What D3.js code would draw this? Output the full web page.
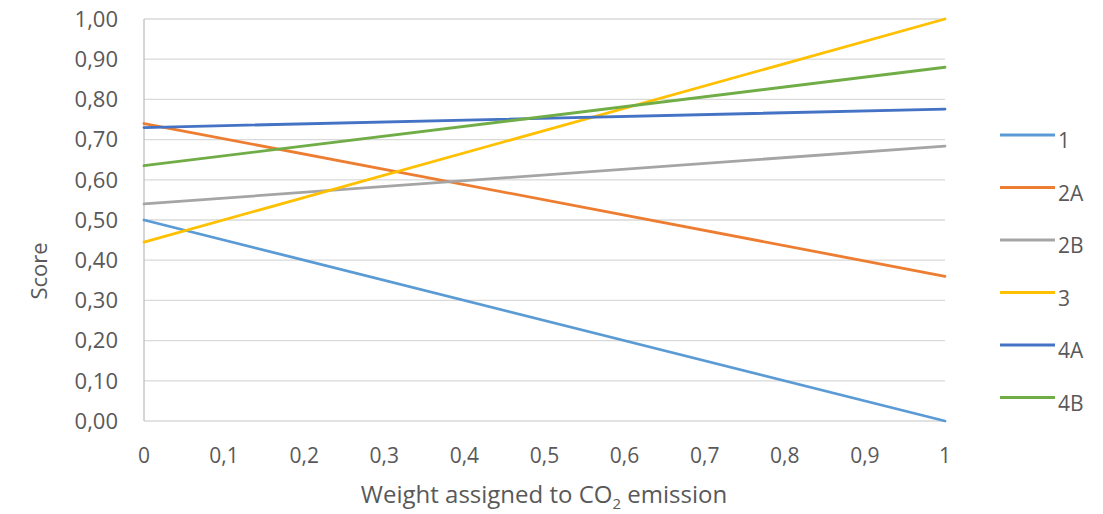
<!DOCTYPE html>
<html>
<head>
<meta charset="utf-8">
<script src="https://cdn.jsdelivr.net/npm/d3@7"></script>
<style>
  body { margin: 0; background: #fff; }
  text { font-family: "Open Sans", sans-serif; fill: #595959; }
</style>
</head>
<body>
<svg id="chart" width="1103" height="514"></svg>
<script>
// weight assigned to CO2 emission (x) and scores per alternative
const weights = [0, 1];
const seriesNames = ["1", "2A", "2B", "3", "4A", "4B"];
const s1  = [0.50, 0.00];
const s2A = [0.74, 0.36];
const s2B = [0.54, 0.684];
const s3  = [0.445, 1.00];
const s4A = [0.73, 0.776];
const s4B = [0.635, 0.88];
const colors = ["#5B9BD5", "#ED7D31", "#A5A5A5", "#FFC000", "#4472C4", "#70AD47"];
const xTicks = [0, 0.1, 0.2, 0.3, 0.4, 0.5, 0.6, 0.7, 0.8, 0.9, 1];
const yTicks = [0, 0.1, 0.2, 0.3, 0.4, 0.5, 0.6, 0.7, 0.8, 0.9, 1];

const series = [s1, s2A, s2B, s3, s4A, s4B];

const svg = d3.select("#chart");
const plotLeft = 144, plotRight = 945, plotTop = 19, plotBottom = 421;

let x = d3.scaleLinear().domain([0, 1]).range([plotLeft, plotRight]);
let y = d3.scaleLinear().domain([0, 1]).range([plotBottom, plotTop]);

let comma = v => d3.format(".2f")(v).replace(".", ",");
let commaX = v => (v === 0 || v === 1) ? String(v) : d3.format(".1f")(v).replace(".", ",");

// gridlines
svg.append("g")
   .selectAll("line")
   .data(yTicks)
   .enter().append("line")
   .attr("x1", plotLeft).attr("x2", plotRight)
   .attr("y1", d => y(d)).attr("y2", d => y(d))
   .attr("stroke", "#d9d9d9").attr("stroke-width", 1.3);

// y axis line
svg.append("line")
   .attr("x1", plotLeft).attr("x2", plotLeft)
   .attr("y1", plotTop).attr("y2", plotBottom)
   .attr("stroke", "#bfbfbf").attr("stroke-width", 1.3);

// y tick labels
svg.append("g")
   .selectAll("text")
   .data(yTicks)
   .enter().append("text")
   .attr("x", 118).attr("y", d => y(d))
   .attr("dy", "0.35em")
   .attr("text-anchor", "end")
   .style("font-size", "22px")
   .text(comma);

// x tick labels
svg.append("g")
   .selectAll("text")
   .data(xTicks)
   .enter().append("text")
   .attr("x", d => x(d)).attr("y", 456)
   .attr("dy", "0.35em")
   .attr("text-anchor", "middle")
   .style("font-size", "21px")
   .text(commaX);

// axis titles
svg.append("text")
   .attr("transform", "translate(47,271) rotate(-90)")
   .attr("text-anchor", "middle")
   .style("font-size", "22px")
   .text("Score");

let xt = svg.append("text")
   .attr("x", 544).attr("y", 503)
   .attr("text-anchor", "middle")
   .style("font-size", "24px");
xt.append("tspan").text("Weight assigned to CO");
xt.append("tspan").attr("dy", 6).style("font-size", "15px").text("2");
xt.append("tspan").attr("dy", -6).text(" emission");

// lines
let line = d3.line()
             .x((d, i) => x(weights[i]))
             .y(d => y(d));

svg.append("g")
   .selectAll("path")
   .data(series)
   .enter().append("path")
   .attr("d", line)
   .attr("fill", "none")
   .attr("stroke", (d, i) => colors[i])
   .attr("stroke-width", 2.8)
   .attr("stroke-linecap", "round");

// legend
let legend = svg.append("g")
                .selectAll("g")
                .data(seriesNames)
                .enter().append("g")
                .attr("transform", (d, i) => "translate(1000," + (135 + i * 52.5) + ")");
legend.append("line")
      .attr("x1", 0).attr("x2", 55)
      .attr("stroke", (d, i) => colors[i])
      .attr("stroke-width", 2.8);
legend.append("text")
      .attr("x", 58).attr("y", 6).attr("dy", "0.35em")
      .style("font-size", "21px")
      .text(d => d);
</script>
</body>
</html>
